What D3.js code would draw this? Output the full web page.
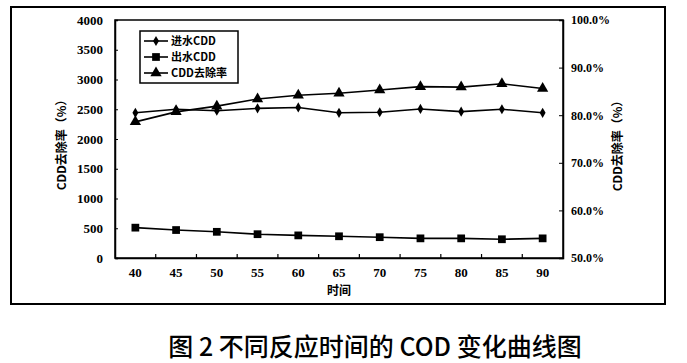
<!DOCTYPE html>
<html><head><meta charset="utf-8">
<script src="https://cdn.jsdelivr.net/npm/d3@7"></script>
<style>
html,body{margin:0;padding:0;background:#fff;}
svg{display:block;}
</style></head>
<body>
<svg id="chart" width="687" height="363"></svg>
<script>
const categories = ["40","45","50","55","60","65","70","75","80","85","90"];
const influentCOD = [2440,2500,2475,2515,2530,2440,2450,2505,2460,2500,2440];
const effluentCOD = [510,470,440,400,380,365,350,330,330,315,330];
const removalRate = [78.6,80.7,81.9,83.4,84.2,84.6,85.3,86.0,85.9,86.6,85.6];
const leftTicks = [0,500,1000,1500,2000,2500,3000,3500,4000];
const rightTicks = [50,60,70,80,90,100];
const seriesNames = ["进水CDD","出水CDD","CDD去除率"];

const svg = d3.select("#chart");
const L=115, R=563, T=20, B=258;
const x = d3.scaleBand().domain(categories).range([L,R]);
const yL = d3.scaleLinear().domain([0,4000]).range([B,T]);
const yR = d3.scaleLinear().domain([50,100]).range([B,T]);
const tickFont = "'Liberation Serif', 'Times New Roman', serif";
const cjkFont = "'Noto Sans CJK SC', sans-serif";

// outer frame
svg.append("rect").attr("x",11).attr("y",7).attr("width",654).attr("height",297)
  .attr("fill","none").attr("stroke","#000").attr("stroke-width",2);

// plot area box
svg.append("rect").attr("x",L).attr("y",T).attr("width",R-L).attr("height",B-T)
  .attr("fill","none").attr("stroke","#000").attr("stroke-width",1.5);

// x axis
const xAx = svg.append("g").attr("transform",`translate(0,${B})`)
  .call(d3.axisBottom(x).tickSize(0).tickPadding(10));
xAx.select(".domain").attr("stroke","#000").attr("stroke-width",1.5);
xAx.selectAll("text").attr("font-family",tickFont).attr("font-weight","bold").attr("font-size",13).attr("fill","#000");
svg.append("g").selectAll("line").data(categories.slice(1)).join("line")
  .attr("x1",d=>x(d)).attr("x2",d=>x(d)).attr("y1",B).attr("y2",B-4)
  .attr("stroke","#000").attr("stroke-width",1.2);

// left axis
const lAx = svg.append("g").attr("transform",`translate(${L},0)`)
  .call(d3.axisLeft(yL).tickValues(leftTicks).tickSize(-3).tickPadding(12).tickFormat(d3.format("d")));
lAx.select(".domain").attr("stroke","#000").attr("stroke-width",1.5);
lAx.selectAll("line").attr("stroke","#000");
lAx.selectAll("text").attr("font-family",tickFont).attr("font-weight","bold").attr("font-size",13).attr("fill","#000");

// right axis
const rAx = svg.append("g").attr("transform",`translate(${R},0)`)
  .call(d3.axisRight(yR).tickValues(rightTicks).tickSize(-4).tickPadding(8).tickFormat(d=>d.toFixed(1)+"%"));
rAx.select(".domain").attr("stroke","#000").attr("stroke-width",1.5);
rAx.selectAll("line").attr("stroke","#000");
rAx.selectAll("text").attr("font-family",tickFont).attr("font-weight","bold").attr("font-size",12).attr("fill","#000");

// axis titles
svg.append("text").attr("transform","translate(66,142) rotate(-90)").attr("text-anchor","middle")
  .attr("font-family",cjkFont).attr("font-size",12).attr("font-weight","bold").text("CDD去除率（%）");
svg.append("text").attr("transform","translate(622,143) rotate(-90)").attr("text-anchor","middle")
  .attr("font-family",cjkFont).attr("font-size",12).attr("font-weight","bold").text("CDD去除率（%）");
svg.append("text").attr("x",339).attr("y",295).attr("text-anchor","middle")
  .attr("font-family",cjkFont).attr("font-size",12).attr("font-weight","bold").text("时间");

// series
const cx = d=>x(d)+x.bandwidth()/2;
const series = [
  {vals:influentCOD, scale:yL, sym:d3.symbolDiamond, size:30},
  {vals:effluentCOD, scale:yL, sym:d3.symbolSquare, size:60},
  {vals:removalRate, scale:yR, sym:d3.symbolTriangle, size:55}
];
series.forEach(s=>{
  const line = d3.line().x((d,i)=>cx(categories[i])).y(d=>s.scale(d));
  svg.append("path").datum(s.vals).attr("d",line).attr("fill","none").attr("stroke","#000").attr("stroke-width",1.6);
  svg.append("g").selectAll("path").data(s.vals).join("path")
    .attr("transform",(d,i)=>`translate(${cx(categories[i])},${s.scale(d)})`)
    .attr("d",d3.symbol().type(s.sym).size(s.size)).attr("fill","#000");
});

// legend
const lg = svg.append("g");
lg.append("rect").attr("x",140).attr("y",31).attr("width",98).attr("height",52)
  .attr("fill","#fff").attr("stroke","#000").attr("stroke-width",1.5);
const rows = [41,57,73];
series.forEach((s,i)=>{
  lg.append("line").attr("x1",144).attr("x2",168).attr("y1",rows[i]).attr("y2",rows[i]).attr("stroke","#000").attr("stroke-width",1.6);
  lg.append("path").attr("transform",`translate(156,${rows[i]})`).attr("d",d3.symbol().type(s.sym).size(s.size)).attr("fill","#000");
  lg.append("text").attr("x",171).attr("y",rows[i]+4).attr("font-family",cjkFont).attr("font-weight","bold").attr("font-size",11).text(seriesNames[i]);
});

// caption
svg.append("text").attr("x",375).attr("y",356).attr("text-anchor","middle")
  .attr("font-family","'Noto Sans CJK SC', sans-serif").attr("font-weight",500).attr("font-size",25).text("图 2  不同反应时间的 COD 变化曲线图");
</script>
</body></html>
